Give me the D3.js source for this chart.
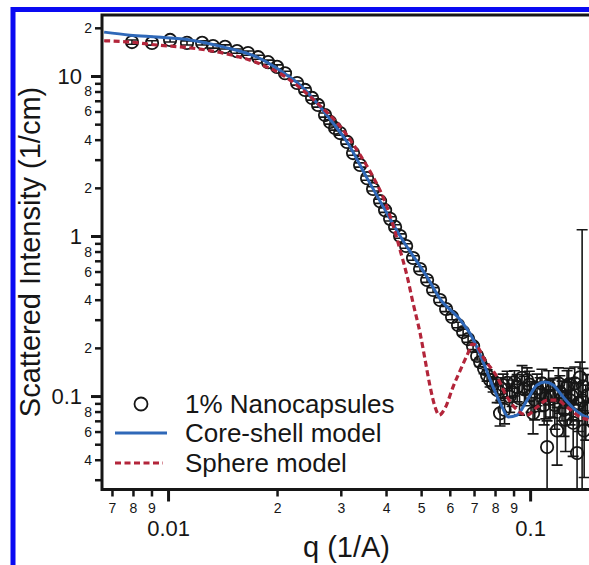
<!DOCTYPE html>
<html>
<head>
<meta charset="utf-8">
<script src="https://cdn.jsdelivr.net/npm/d3@7"></script>
<style>
  html, body { margin: 0; padding: 0; background: #fff; }
  svg { display: block; font-family: "Liberation Sans", Arial, Helvetica, sans-serif; }
</style>
</head>
<body>
<div id="chart"></div>
<script>
// measured points: q (1/A), intensity (1/cm), error
var qData = [0.00795, 0.00903, 0.01013, 0.01128, 0.01242, 0.01331, 0.01437, 0.01551, 0.01663, 0.01773,
    0.01889, 0.02000, 0.02104, 0.02272, 0.02390, 0.02499, 0.02596, 0.02714, 0.02802, 0.02892,
    0.02986, 0.03122, 0.03243, 0.03392, 0.03546, 0.03684, 0.03851, 0.03976, 0.04105, 0.04237,
    0.04374, 0.04545, 0.04750, 0.04966, 0.05193, 0.05395, 0.05640, 0.05861, 0.06088, 0.06324,
    0.06531, 0.06741, 0.06958, 0.07140, 0.07278, 0.07464, 0.07607, 0.07754, 0.07904,
    0.0811, 0.0826, 0.0830, 0.0842, 0.0850, 0.0864, 0.0878, 0.0892, 0.0905, 0.0921,
    0.0935, 0.0950, 0.0965, 0.0981, 0.0995, 0.1006, 0.1019, 0.1030, 0.1045, 0.1066,
    0.1078, 0.1093, 0.1105, 0.1114, 0.1125, 0.1136, 0.1157, 0.1170, 0.1187, 0.1197,
    0.1208, 0.1225, 0.1241, 0.1253, 0.1265, 0.1278, 0.1290, 0.1303, 0.1315, 0.1328,
    0.1348, 0.1360, 0.1374, 0.1392, 0.1400, 0.1410, 0.1425, 0.1440];
var iData = [16.3, 16.1, 16.8, 16.1, 16.1, 15.4, 15.2, 14.3, 13.9, 13.1,
    12.2, 11.4, 10.4, 9.04, 8.18, 7.29, 6.59, 5.70, 5.16, 4.73,
    4.40, 3.87, 3.30, 2.78, 2.30, 1.97, 1.65, 1.45, 1.28, 1.14,
    1.00, 0.866, 0.729, 0.622, 0.531, 0.460, 0.398, 0.350, 0.312, 0.278,
    0.251, 0.227, 0.205, 0.178, 0.163, 0.148, 0.135, 0.126, 0.119,
    0.109, 0.078, 0.112, 0.117, 0.082, 0.121, 0.099, 0.106, 0.122, 0.114,
    0.097, 0.130, 0.110, 0.126, 0.118, 0.101, 0.078, 0.095, 0.112, 0.105,
    0.120, 0.088, 0.097, 0.048, 0.116, 0.100, 0.101, 0.088, 0.061, 0.120,
    0.106, 0.097, 0.082, 0.071, 0.114, 0.118, 0.094, 0.100, 0.068, 0.120,
    0.044, 0.090, 0.131, 0.094, 0.115, 0.061, 0.085, 0.101];
var errData = [0.5, 0.5, 0.5, 0.48, 0.48, 0.46, 0.45, 0.43, 0.42, 0.39,
    0.37, 0.34, 0.31, 0.27, 0.25, 0.22, 0.2, 0.17, 0.16, 0.14,
    0.13, 0.12, 0.1, 0.085, 0.07, 0.06, 0.05, 0.045, 0.04, 0.036,
    0.032, 0.028, 0.024, 0.021, 0.018, 0.016, 0.014, 0.013, 0.012, 0.011,
    0.011, 0.01, 0.01, 0.01, 0.01, 0.01, 0.011, 0.012, 0.013,
    0.018, 0.013, 0.018, 0.020, 0.015, 0.022, 0.020, 0.020, 0.022, 0.022,
    0.021, 0.025, 0.023, 0.024, 0.025, 0.022, 0.020, 0.024, 0.025, 0.025,
    0.027, 0.022, 0.025, 0.022, 0.028, 0.026, 0.028, 0.026, 0.024, 0.030,
    0.028, 0.027, 0.026, 0.026, 0.030, 0.031, 0.028, 0.029, 0.026, 0.032,
    0.026, 0.030, 0.032, 1.0, 0.034, 0.030, 0.032, 0.035];

// core-shell model fit
var coreQ = [0.00666, 0.00785, 0.00932, 0.01150, 0.01419, 0.01762, 0.02132, 0.02315, 0.02856, 0.03122,
    0.03546, 0.04182, 0.04374, 0.05193, 0.0564, 0.0640, 0.0683, 0.0714, 0.0742, 0.0790,
    0.08372, 0.08696, 0.09207, 0.09811, 0.1045, 0.1100, 0.1157, 0.1234, 0.1315, 0.1392, 0.1465];
var coreI = [18.8, 18.0, 17.5, 16.8, 15.2, 13.1, 10.1, 8.78, 5.08, 3.87,
    2.30, 1.19, 1.0, 0.554, 0.405, 0.300, 0.245, 0.200, 0.163, 0.114,
    0.0853, 0.0740, 0.0761, 0.0944, 0.1172, 0.1223, 0.1172, 0.0986, 0.0841, 0.0761, 0.0729];

// sphere model fit
var sphereQ = [0.00666, 0.00785, 0.00932, 0.01150, 0.01419, 0.01762, 0.02132, 0.02580, 0.03044, 0.03392,
    0.03684, 0.03926, 0.04182, 0.04374, 0.04573, 0.04750, 0.04966, 0.05129, 0.05296, 0.05465,
    0.05606, 0.05823, 0.06126, 0.06491, 0.06741, 0.06917, 0.07140, 0.07419, 0.08107, 0.0864,
    0.09207, 0.09811, 0.1045, 0.1114, 0.1187, 0.1265, 0.1374, 0.1465];
var sphereI = [16.6, 16.3, 15.6, 15.0, 13.9, 12.1, 9.72, 6.78, 4.60, 3.21,
    2.34, 1.75, 1.17, 0.818, 0.562, 0.381, 0.248, 0.168, 0.114, 0.0853,
    0.0761, 0.0841, 0.114, 0.154, 0.186, 0.211, 0.205, 0.175, 0.1315, 0.0986,
    0.0818, 0.0761, 0.0853, 0.0944, 0.0944, 0.0853, 0.0740, 0.0708];

var xMajorTicks = [0.01, 0.1];
var xMinorTicks = [0.007, 0.008, 0.009, 0.02, 0.03, 0.04, 0.05, 0.06, 0.07, 0.08, 0.09];
var yMajorTicks = [0.1, 1, 10];
var yMinorTicks = [0.03, 0.04, 0.05, 0.06, 0.07, 0.08, 0.09,
    0.2, 0.3, 0.4, 0.5, 0.6, 0.7, 0.8, 0.9,
    2, 3, 4, 5, 6, 7, 8, 9, 20];

var legendLabels = ["1% Nanocapsules", "Core-shell model", "Sphere model"];
var xTitle = "q (1/A)";
var yTitle = "Scattered Intensity (1/cm)";

var W = 589, H = 565;
var plot = { left: 102, top: 15, right: 605, bottom: 489.5 };
var blue = "#2f68b8", red = "#b3253a", ink = "#161616";

var svg = d3.select("#chart").append("svg")
    .attr("width", W)
    .attr("height", H)

svg.append("rect").attr("width", W).attr("height", H).attr("fill", "#fff")

// outer blue frame (cut off on right and bottom)
svg.append("rect")
    .attr("x", 13).attr("y", 9.5)
    .attr("width", W + 40).attr("height", H + 40)
    .attr("fill", "none")
    .attr("stroke", "#0a0af2")
    .attr("stroke-width", 5)

var x = d3.scaleLog().domain([0.00657, 0.161]).range([plot.left, plot.right])
var y = d3.scaleLog().domain([0.02606, 24.05]).range([plot.bottom, plot.top])

function digit(d) {
    return Math.round(d / Math.pow(10, Math.floor(Math.log10(d) + 1e-9)));
}

function styleAxis(g, size, width) {
    g.select(".domain").remove()
    g.attr("font-family", null).attr("font-size", size)
    g.selectAll(".tick line").attr("stroke", ink).attr("stroke-width", width)
    g.selectAll(".tick text").attr("fill", ink)
}

// y axis
svg.append("g")
    .attr("transform", "translate(" + plot.left + ",0)")
    .call(d3.axisLeft(y).tickValues(yMinorTicks).tickSize(7).tickPadding(3)
        .tickFormat(function (d) { var k = digit(d); return k % 2 === 0 ? k : ""; }))
    .call(styleAxis, 14, 2.5)

svg.append("g")
    .attr("transform", "translate(" + plot.left + ",0)")
    .call(d3.axisLeft(y).tickValues(yMajorTicks).tickSize(11).tickPadding(9)
        .tickFormat(function (d) { return String(d); }))
    .call(styleAxis, 22, 3)

// x axis
svg.append("g")
    .attr("transform", "translate(0," + plot.bottom + ")")
    .call(d3.axisBottom(x).tickValues(xMinorTicks).tickSize(7).tickPadding(6.5)
        .tickFormat(digit))
    .call(styleAxis, 14, 2.5)

svg.append("g")
    .attr("transform", "translate(0," + plot.bottom + ")")
    .call(d3.axisBottom(x).tickValues(xMajorTicks).tickSize(12).tickPadding(18.5)
        .tickFormat(function (d) { return String(d); }))
    .call(styleAxis, 22, 3)

svg.append("clipPath").attr("id", "plotclip")
    .append("rect")
    .attr("x", plot.left).attr("y", plot.top)
    .attr("width", plot.right - plot.left).attr("height", plot.bottom - plot.top)

var area = svg.append("g").attr("clip-path", "url(#plotclip)")

var points = qData.map(function (q, i) {
    return { q: q, I: iData[i], e: errData[i] };
})

var yMin = y.domain()[0];

// error bars with caps
var bars = area.selectAll("g.err")
    .data(points)
    .enter().append("g")
    .attr("class", "err")
    .attr("stroke", ink)
    .attr("stroke-width", 1.6)

bars.append("line")
    .attr("x1", function (d) { return x(d.q) })
    .attr("x2", function (d) { return x(d.q) })
    .attr("y1", function (d) { return y(d.I + d.e) })
    .attr("y2", function (d) { return y(Math.max(d.I - d.e, yMin * 0.8)) })

bars.append("line")
    .attr("x1", function (d) { return x(d.q) - 5.5 })
    .attr("x2", function (d) { return x(d.q) + 5.5 })
    .attr("y1", function (d) { return y(d.I + d.e) })
    .attr("y2", function (d) { return y(d.I + d.e) })

bars.filter(function (d) { return d.I - d.e > yMin; })
    .append("line")
    .attr("x1", function (d) { return x(d.q) - 5.5 })
    .attr("x2", function (d) { return x(d.q) + 5.5 })
    .attr("y1", function (d) { return y(d.I - d.e) })
    .attr("y2", function (d) { return y(d.I - d.e) })

area.selectAll("circle.pt")
    .data(points)
    .enter().append("circle")
    .attr("class", "pt")
    .attr("cx", function (d) { return x(d.q) })
    .attr("cy", function (d) { return y(d.I) })
    .attr("r", 6.2)
    .attr("fill", "none")
    .attr("stroke", ink)
    .attr("stroke-width", 1.8)

var line = d3.line()
    .x(function (d) { return x(d[0]) })
    .y(function (d) { return y(d[1]) })
    .curve(d3.curveMonotoneX)

area.append("path")
    .attr("d", line(d3.zip(coreQ, coreI)))
    .attr("fill", "none")
    .attr("stroke", blue)
    .attr("stroke-width", 3)

area.append("path")
    .attr("d", line(d3.zip(sphereQ, sphereI)))
    .attr("fill", "none")
    .attr("stroke", red)
    .attr("stroke-width", 3.2)
    .attr("stroke-dasharray", "6,3.5")

// plot frame
svg.append("rect")
    .attr("x", plot.left).attr("y", plot.top)
    .attr("width", plot.right - plot.left).attr("height", plot.bottom - plot.top)
    .attr("fill", "none")
    .attr("stroke", ink)
    .attr("stroke-width", 3)

// legend
var legend = svg.append("g").attr("font-size", 26).attr("fill", ink)
var legendY = [404, 433, 463];

legend.append("circle")
    .attr("cx", 141).attr("cy", legendY[0]).attr("r", 6.5)
    .attr("fill", "none").attr("stroke", ink).attr("stroke-width", 1.8)
legend.append("line")
    .attr("x1", 115).attr("x2", 167).attr("y1", legendY[1]).attr("y2", legendY[1])
    .attr("stroke", blue).attr("stroke-width", 3)
legend.append("line")
    .attr("x1", 115).attr("x2", 163).attr("y1", legendY[2]).attr("y2", legendY[2])
    .attr("stroke", red).attr("stroke-width", 3.2).attr("stroke-dasharray", "6,3.5")

legend.selectAll("text")
    .data(legendLabels)
    .enter().append("text")
    .attr("x", 185)
    .attr("y", function (d, i) { return legendY[i] + 9 })
    .text(function (d) { return d })

// axis titles
svg.append("text")
    .attr("x", 346.5).attr("y", 557)
    .attr("text-anchor", "middle")
    .attr("font-size", 29)
    .attr("fill", ink)
    .text(xTitle)

svg.append("text")
    .attr("transform", "translate(40,252) rotate(-90)")
    .attr("text-anchor", "middle")
    .attr("font-size", 29)
    .attr("fill", ink)
    .text(yTitle)
</script>
</body>
</html>
